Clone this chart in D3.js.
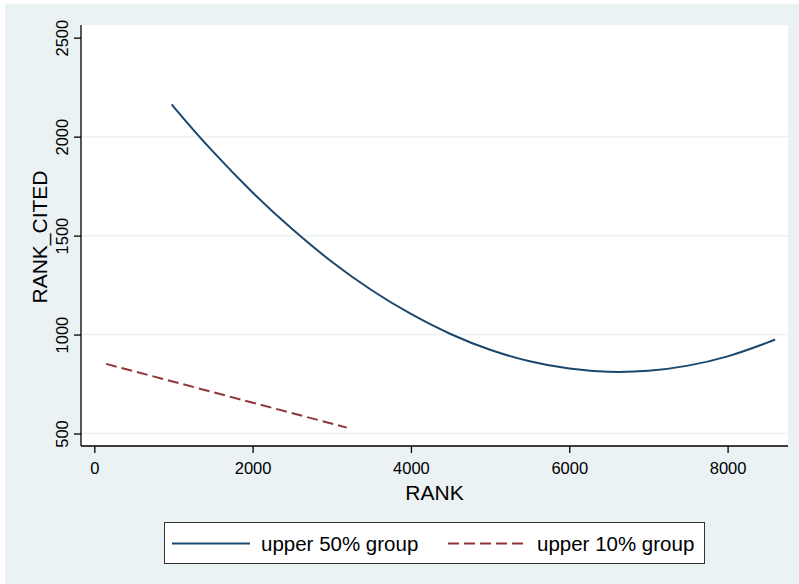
<!DOCTYPE html>
<html>
<head>
<meta charset="utf-8">
<script src="https://cdn.jsdelivr.net/npm/d3@7"></script>
<style>
  html, body { margin: 0; padding: 0; background: #ffffff; }
  svg { display: block; }
  text { font-family: "Liberation Sans", Arial, Helvetica, sans-serif; fill: #000; }
</style>
</head>
<body>
<script>
// ---- data ----
const upper50Rank  = [978, 1000, 1500, 2000, 2500, 3000, 3500, 4000, 4500, 5000, 5500, 6000, 6500, 7000, 7500, 8000, 8500, 8600];
const upper50Cited = [2163, 2152, 1924, 1718, 1533, 1368, 1225, 1104, 1003, 923, 865, 828, 812, 817, 843, 890, 959, 975];
const upper10Rank  = [148, 3189];
const upper10Cited = [852, 530];
const xTicks = [0, 2000, 4000, 6000, 8000];
const yTicks = [500, 1000, 1500, 2000, 2500];
const yGrid  = [500, 1000, 1500, 2000];
const seriesNames = ["upper 50% group", "upper 10% group"];
const seriesColors = ["#1a476f", "#90353b"];

const W = 799, H = 584;
const plot = { left: 81, right: 788, top: 25, bottom: 446 };

const svg = d3.select("body").append("svg").attr("width", W).attr("height", H);

// outer background
svg.append("rect").attr("x", 5).attr("y", 4).attr("width", W - 5).attr("height", H - 4).attr("fill", "#eaf2f3");
// plot region
svg.append("rect").attr("x", plot.left).attr("y", plot.top)
  .attr("width", plot.right - plot.left).attr("height", plot.bottom - plot.top).attr("fill", "#ffffff");

const x = d3.scaleLinear().domain([-168, 8763]).range([plot.left, plot.right]);
const y = d3.scaleLinear().domain([437, 2564]).range([plot.bottom, plot.top]);

// gridlines
svg.append("g").selectAll("line").data(yGrid).join("line")
  .attr("x1", plot.left).attr("x2", plot.right)
  .attr("y1", d => y(d)).attr("y2", d => y(d))
  .attr("stroke", "#eaf2f3").attr("stroke-width", 1.6);

// series
const line = d3.line().x(d => x(d[0])).y(d => y(d[1])).curve(d3.curveCatmullRom);
svg.append("path")
  .datum(upper50Rank.map((r, i) => [r, upper50Cited[i]]))
  .attr("d", line).attr("fill", "none")
  .attr("stroke", seriesColors[0]).attr("stroke-width", 2);
svg.append("path")
  .datum(upper10Rank.map((r, i) => [r, upper10Cited[i]]))
  .attr("d", d3.line().x(d => x(d[0])).y(d => y(d[1])))
  .attr("fill", "none")
  .attr("stroke", seriesColors[1]).attr("stroke-width", 2)
  .attr("stroke-dasharray", "11,5");

// axes
const xAxis = svg.append("g").attr("transform", `translate(0,${plot.bottom})`)
  .call(d3.axisBottom(x).tickValues(xTicks).tickSize(7).tickPadding(9).tickFormat(d3.format("d")));
xAxis.select(".domain").attr("d", `M${plot.left},0H${plot.right}`).attr("stroke", "#000").attr("stroke-width", 1.3);
xAxis.selectAll(".tick line").attr("stroke", "#000").attr("stroke-width", 1.3);
xAxis.selectAll(".tick text").attr("font-size", 16.5).attr("font-family", "Liberation Sans, Arial, sans-serif").attr("fill", "#000");

const yAxis = svg.append("g").attr("transform", `translate(${plot.left},0)`)
  .call(d3.axisLeft(y).tickValues(yTicks).tickSize(7).tickPadding(9).tickFormat(d3.format("d")));
yAxis.select(".domain").attr("d", `M0,${plot.top}V${plot.bottom}`).attr("stroke", "#000").attr("stroke-width", 1.3);
yAxis.selectAll(".tick line").attr("stroke", "#000").attr("stroke-width", 1.3);
yAxis.selectAll(".tick text")
  .attr("font-size", 16.5).attr("font-family", "Liberation Sans, Arial, sans-serif").attr("fill", "#000")
  .attr("text-anchor", "middle").attr("x", null).attr("dy", null)
  .attr("transform", "translate(-13,0) rotate(-90)");

// axis titles
svg.append("text").attr("x", (plot.left + plot.right) / 2).attr("y", 500)
  .attr("text-anchor", "middle").attr("font-size", 21).text("RANK");
svg.append("text").attr("transform", "translate(47,237) rotate(-90)")
  .attr("text-anchor", "middle").attr("font-size", 21).text("RANK_CITED");

// legend
const lg = svg.append("g");
lg.append("rect").attr("x", 164.5).attr("y", 522.5).attr("width", 540).attr("height", 41)
  .attr("fill", "#ffffff").attr("stroke", "#333").attr("stroke-width", 1);
const legendItems = [
  { x1: 172, x2: 250, tx: 261, dash: null },
  { x1: 448, x2: 525, tx: 537, dash: "11,5" }
];
legendItems.forEach((it, i) => {
  lg.append("line").attr("x1", it.x1).attr("x2", it.x2).attr("y1", 543.5).attr("y2", 543.5)
    .attr("stroke", seriesColors[i]).attr("stroke-width", 2)
    .attr("stroke-dasharray", it.dash);
  lg.append("text").attr("x", it.tx).attr("y", 551).attr("font-size", 20.5).text(seriesNames[i]);
});
</script>
</body>
</html>
